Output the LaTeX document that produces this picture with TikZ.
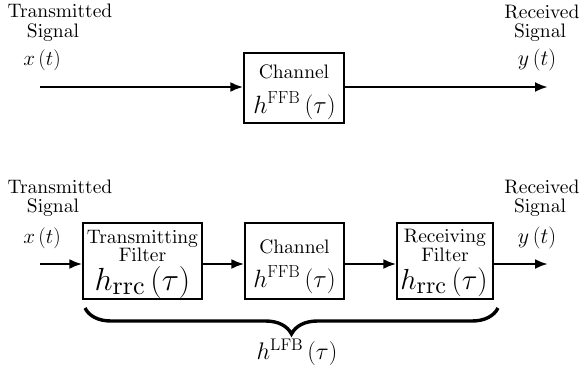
\RequirePackage{fix-cm}
\documentclass[tikz,border=0pt]{standalone}
\usetikzlibrary{arrows.meta,decorations.pathreplacing}
\newcommand{\cmtext}[1]{\fontencoding{OT1}\fontfamily{cmr}\fontsize{#1}{#1}\selectfont}
\font\lblfont=cmr10 at 19.5pt
\font\rrcA=cmr10 at 26pt
\font\rrcB=cmr10 at 24pt
\begin{document}
\begin{tikzpicture}[x=1pt,y=-1pt,
  lbl/.style={anchor=base,inner sep=0pt,font=\lblfont},
  mth/.style={anchor=base,inner sep=0pt},
  blk/.style={draw,line width=1.2pt,inner sep=0pt},
  arr/.style={line width=2.6pt,-{Latex[length=13pt,width=10pt]}},
  brc/.style={line width=3.4pt,decorate,decoration={brace,mirror,amplitude=26pt}}]
\useasboundingbox (0,0) rectangle (584,381);
% ---------- top row ----------
\node[lbl] (tt1) at (60,17) {Transmitted};
\node[lbl] (ts1) at (53,37) {Signal};
\node[mth,font=\cmtext{21}] (tx1) at (42,65) {$x\left(t\right)$};
\node[lbl] (rr1) at (542,18) {Received};
\node[lbl] (rs1) at (540,37) {Signal};
\node[mth,font=\cmtext{22}] (ry1) at (537,65) {$y\left(t\right)$};
\node[blk,minimum width=100pt,minimum height=70pt] (ch1) at (294,88) {};
\node[lbl] (ch1a) at (294,78) {Channel};
\node[mth,font=\cmtext{25}] (ch1b) at (294.5,113) {$h^{\mathrm{FFB}}\left(\tau\right)$};
\coordinate (in1) at (40,87);
\coordinate (out1) at (548,87);
\draw[arr] (in1) -- (in1 -| ch1.west);
\draw[arr] (ch1.east |- out1) -- (out1);
% ---------- bottom row ----------
\node[lbl] (tt2) at (60,193) {Transmitted};
\node[lbl] (ts2) at (53,212) {Signal};
\node[mth,font=\cmtext{21}] (tx2) at (42,243) {$x\left(t\right)$};
\node[lbl] (rr2) at (542,193) {Received};
\node[lbl] (rs2) at (540,212) {Signal};
\node[mth,font=\cmtext{22}] (ry2) at (537,243) {$y\left(t\right)$};
\node[blk,minimum width=119pt,minimum height=76pt] (tf) at (142.5,261) {};
\node[lbl] (tfa) at (142.5,243) {Transmitting};
\node[lbl] (tfb) at (142.5,261) {Filter};
\node[mth,font=\cmtext{32}] (tfc) at (142.5,290) {$h_{\mbox{\rrcA rrc}}\left(\tau\right)$};
\node[blk,minimum width=99pt,minimum height=76pt] (ch2) at (294.5,261) {};
\node[lbl] (ch2a) at (294.5,253) {Channel};
\node[mth,font=\cmtext{25}] (ch2b) at (294.5,287) {$h^{\mathrm{FFB}}\left(\tau\right)$};
\node[blk,minimum width=96pt,minimum height=76pt] (rf) at (445,261) {};
\node[lbl] (rfa) at (445,242) {Receiving};
\node[lbl] (rfb) at (445,261) {Filter};
\node[mth,font=\cmtext{29}] (rfc) at (444,289) {$h_{\mbox{\rrcB rrc}}\left(\tau\right)$};
\coordinate (in2) at (40,264);
\coordinate (out2) at (548,264);
\draw[arr] (in2) -- (in2 -| tf.west);
\draw[arr] (tf.east |- in2) -- (in2 -| ch2.west);
\draw[arr] (ch2.east |- in2) -- (in2 -| rf.west);
\draw[arr] (rf.east |- out2) -- (out2);
% ---------- brace ----------
\coordinate (bl) at (85,308);
\coordinate (br) at (498,308);
\draw[brc] (bl) -- (br);
\node[mth,font=\cmtext{24}] (lfb) at (297,359) {$h^{\mathrm{LFB}}\left(\tau\right)$};
\end{tikzpicture}
\end{document}
